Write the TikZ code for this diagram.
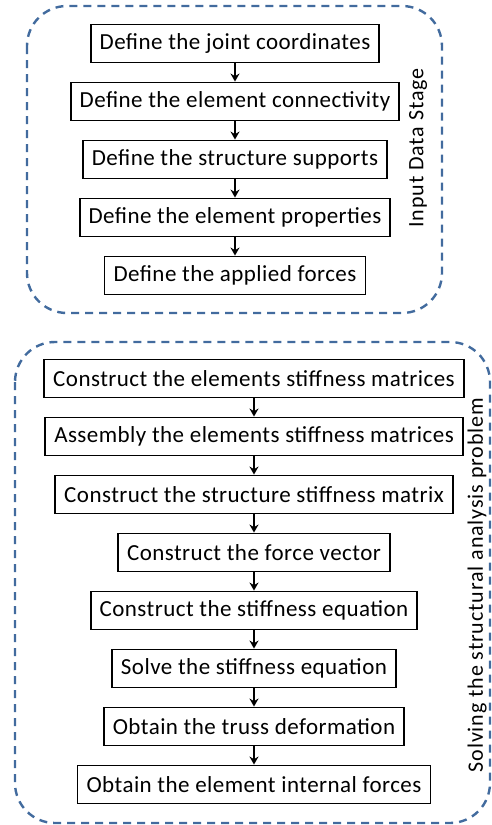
\documentclass[tikz,border=0pt]{standalone}
\usepackage{fontspec}
\setmainfont[LetterSpace=2]{Carlito}
\newfontfamily\stagefont[LetterSpace=4]{Carlito}
\usepackage{tikz}
\usetikzlibrary{arrows,arrows.meta}
\usetikzlibrary{positioning}
\definecolor{stageblue}{RGB}{66,107,158}

\begin{document}
\begin{tikzpicture}
		[x=1pt,y=-1pt,every node/.style={draw,line width=1.9pt,inner xsep=9pt,minimum height=38pt,font=\fontsize{23}{26}\selectfont},
		stage/.style={stageblue,line width=2.4pt,dash pattern=on 8pt off 6pt,rounded corners=40pt},
		stagelabel/.style={draw=none,rotate=90,inner sep=0pt,minimum height=0pt,font=\fontsize{22}{26}\stagefont}]
		\useasboundingbox (0,0) rectangle (491,825);
		\draw[stage] (27,6) rectangle (442,313);
		\draw[stage] (15,342) rectangle (490,823);
		\node (n1) at (235,43.5) {Define the joint coordinates};
		\node (n2) at (235,101.5) {Define the element connectivity};
		\node (n3) at (235,159.5) {Define the structure supports};
		\node (n4) at (235,217.5) {Define the element properties};
		\node (n5) at (235,275.5) {Define the applied forces};
		\node (n6) at (254,378.5) {Construct the elements stiffness matrices};
		\node (n7) at (254,436.5) {Assembly the elements stiffness matrices};
		\node (n8) at (254,494.5) {Construct the structure stiffness matrix};
		\node (n9) at (254,552.5) {Construct the force vector};
		\node (n10) at (254,610.5) {Construct the stiffness equation};
		\node (n11) at (254,668.5) {Solve the stiffness equation};
		\node (n12) at (254,726.5) {Obtain the truss deformation};
		\node (n13) at (254,784.5) {Obtain the element internal forces};
		\node[stagelabel] (s1) at (418,148) {Input Data Stage};
		\node[stagelabel] (s2) at (477,585) {Solving the structural analysis problem};
		
		\foreach \from/\to in 
		{n1/n2, n2/n3, n3/n4, n4/n5, n6/n7, n7/n8, n8/n9, n9/n10, n10/n11, n11/n12, n12/n13}
		\draw[-{Stealth[length=8pt,width=9pt]},line width=1.8pt] (\from) -- (\to);
		\end{tikzpicture}
\end{document}
